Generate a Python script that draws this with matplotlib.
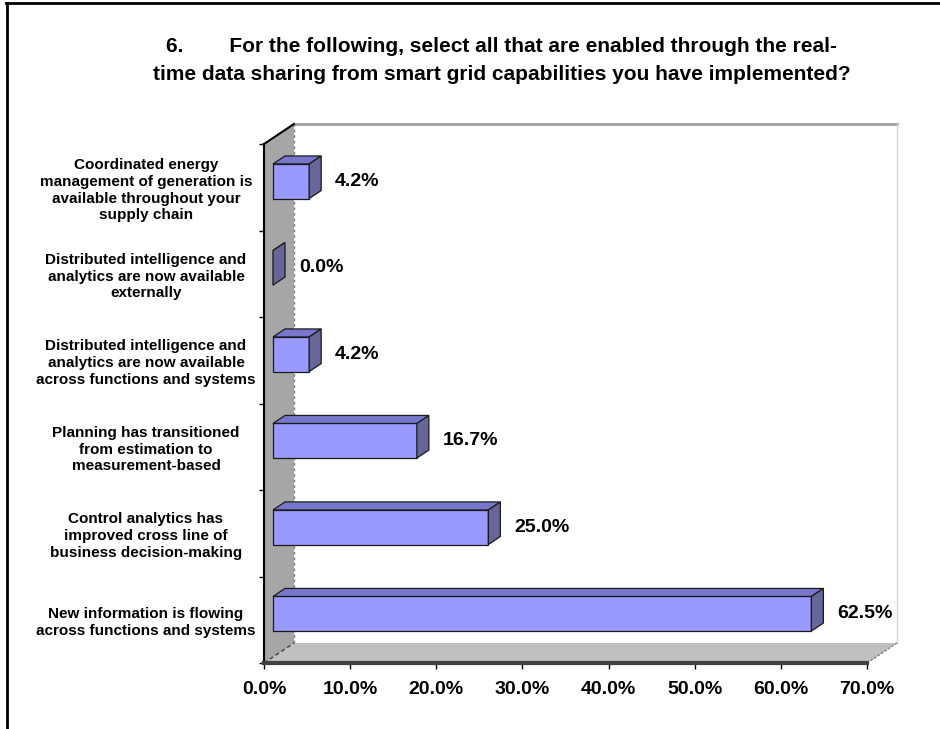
import numpy as np
import matplotlib.pyplot as plt
from matplotlib.patches import Polygon
from matplotlib.lines import Line2D

plt.rcParams['font.family'] = ['Liberation Sans', 'DejaVu Sans']

# categories from bottom to top
cats = ["New information is flowing\nacross functions and systems",
        "Control analytics has\nimproved cross line of\nbusiness decision-making",
        "Planning has transitioned\nfrom estimation to\nmeasurement-based",
        "Distributed intelligence and\nanalytics are now available\nacross functions and systems",
        "Distributed intelligence and\nanalytics are now available\nexternally",
        "Coordinated energy\nmanagement of generation is\navailable throughout your\nsupply chain"]
values = [62.5, 25.0, 16.7, 4.2, 0.0, 4.2]
xticks = [0, 10, 20, 30, 40, 50, 60, 70]
xlabels = ["%.1f%%" % t for t in xticks]

title = ("6.        For the following, select all that are enabled through the real-\n"
         "time data sharing from smart grid capabilities you have implemented?")

xmax = 70
n = len(cats)
# depth offset of the 3d box in data units
ddx = 30 / (603 / xmax)
ddy = 20 / (519 / n)
z0, z1 = 0.3, 0.7
h = 0.2

fig = plt.figure(figsize=(9.4, 7.29), dpi=100)
ax = fig.add_axes([264/940, 66/729, 603/940, 519/729])
ax.set_xlim(0, xmax)
ax.set_ylim(0, n)
for s in ax.spines.values():
	s.set_visible(False)

# back wall
ax.add_patch(Polygon([(ddx, ddy), (xmax+ddx, ddy), (xmax+ddx, n+ddy), (ddx, n+ddy)],
                     closed=True, fc='white', ec='none', clip_on=False, zorder=0))
ax.plot([ddx, xmax+ddx], [n+ddy, n+ddy], color='#a0a0a0', lw=2, clip_on=False, zorder=1)
ax.plot([xmax+ddx, xmax+ddx], [ddy, n+ddy], color='#d4d4d4', lw=1, clip_on=False, zorder=1)

# floor
ax.add_patch(Polygon([(0, 0), (xmax, 0), (xmax+ddx, ddy), (ddx, ddy)],
                     closed=True, fc='#c0c0c0', ec='none', clip_on=False, zorder=1))
ax.plot([xmax, xmax+ddx], [0, ddy], color='#808080', lw=1, ls=(0, (2, 1)), clip_on=False, zorder=2)
ax.plot([0, ddx], [0, ddy], color='#404040', lw=1, ls=(0, (3, 2)), clip_on=False, zorder=2)

# left wall
ax.add_patch(Polygon([(0, 0), (ddx, ddy), (ddx, n+ddy), (0, n)],
                     closed=True, fc='#a6a6a6', ec='none', clip_on=False, zorder=1))
ax.plot([0, ddx], [n, n+ddy], color='black', lw=1.5, clip_on=False, zorder=2)
ax.plot([ddx, ddx], [ddy, n+ddy], color='#808080', lw=1, ls=(0, (2, 2)), clip_on=False, zorder=2)
ax.plot([0, 0], [0, n], color='black', lw=1.5, clip_on=False, zorder=3)
ax.plot([0, xmax], [0, 0], color='#404040', lw=3, clip_on=False, zorder=3)

# bars
for i, v in enumerate(values):
	c = i + 0.5
	front = [(z0*ddx, c-h+z0*ddy), (v+z0*ddx, c-h+z0*ddy), (v+z0*ddx, c+h+z0*ddy), (z0*ddx, c+h+z0*ddy)]
	top = [(z0*ddx, c+h+z0*ddy), (v+z0*ddx, c+h+z0*ddy), (v+z1*ddx, c+h+z1*ddy), (z1*ddx, c+h+z1*ddy)]
	side = [(v+z0*ddx, c-h+z0*ddy), (v+z0*ddx, c+h+z0*ddy), (v+z1*ddx, c+h+z1*ddy), (v+z1*ddx, c-h+z1*ddy)]
	for pts, col in [(front, '#9999ff'), (top, '#7777cc'), (side, '#666699')]:
		ax.add_patch(Polygon(pts, closed=True, fc=col, ec='#1a1a1a', lw=0.9, clip_on=False, zorder=4))
	ax.annotate("%.1f%%" % v, xy=(v+z1*ddx, c+z0*ddy), xytext=(10, 0), textcoords='offset points',
	            ha='left', va='center', fontsize=14, fontweight='bold', zorder=5)

ax.set_xticks(xticks)
ax.set_xticklabels(xlabels, fontsize=14, fontweight='bold')
ax.tick_params(axis='x', direction='out', length=4, width=1, color='black', pad=9)

ax.set_yticks(np.arange(n+1))
ax.tick_params(axis='y', which='major', length=3.5, width=1, labelleft=False)
ax.set_yticks(np.arange(n) + 0.5, minor=True)
ax.set_yticklabels(cats, minor=True, fontsize=11, fontweight='bold')
ax.tick_params(axis='y', which='minor', length=0, pad=85)
for lab in ax.get_yticklabels(minor=True):
	lab.set_ha('center')
	lab.set_multialignment('center')
	lab.set_linespacing(1.25)

fig.text(0.534, 0.917, title, ha='center', va='center', fontsize=15, fontweight='bold', linespacing=1.6)

# outer frame
fig.add_artist(Line2D([6/940, 1], [1-3/729, 1-3/729], transform=fig.transFigure, color='black', lw=2))
fig.add_artist(Line2D([7/940, 7/940], [0, 1-3/729], transform=fig.transFigure, color='black', lw=2))

fig.savefig('out.png', dpi=100)
